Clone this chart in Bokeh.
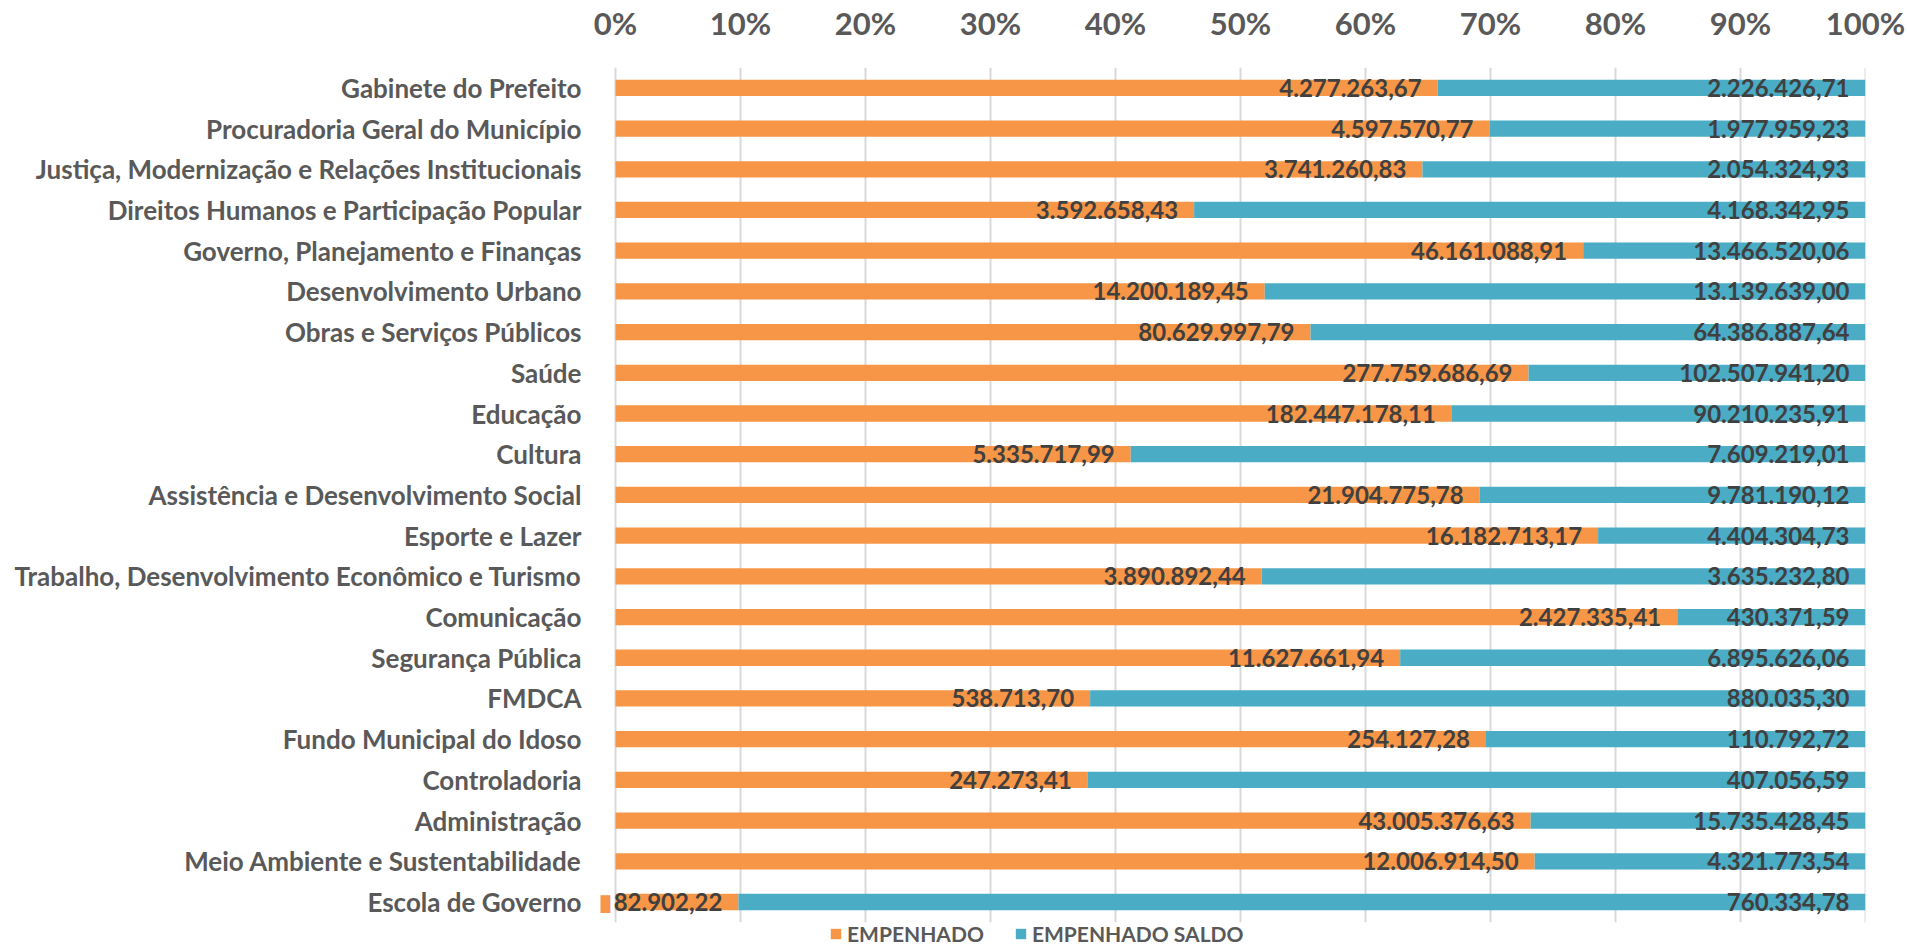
from bokeh.plotting import figure
from bokeh.models import (ColumnDataSource, Range1d, FixedTicker, NumeralTickFormatter,
                          Legend, LegendItem)
from bokeh.core.properties import value
from bokeh.embed import file_html
from bokeh.resources import INLINE

categories = [
    "Gabinete do Prefeito",
    "Procuradoria Geral do Município",
    "Justiça, Modernização e Relações Institucionais",
    "Direitos Humanos e Participação Popular",
    "Governo, Planejamento e Finanças",
    "Desenvolvimento Urbano",
    "Obras e Serviços Públicos",
    "Saúde",
    "Educação",
    "Cultura",
    "Assistência e Desenvolvimento Social",
    "Esporte e Lazer",
    "Trabalho, Desenvolvimento Econômico e Turismo",
    "Comunicação",
    "Segurança Pública",
    "FMDCA",
    "Fundo Municipal do Idoso",
    "Controladoria",
    "Administração",
    "Meio Ambiente e Sustentabilidade",
    "Escola de Governo",
]

empenhado = [
    4277263.67, 4597570.77, 3741260.83, 3592658.43, 46161088.91, 14200189.45,
    80629997.79, 277759686.69, 182447178.11, 5335717.99, 21904775.78,
    16182713.17, 3890892.44, 2427335.41, 11627661.94, 538713.70, 254127.28,
    247273.41, 43005376.63, 12006914.50, 82902.22,
]

empenhado_saldo = [
    2226426.71, 1977959.23, 2054324.93, 4168342.95, 13466520.06, 13139639.00,
    64386887.64, 102507941.20, 90210235.91, 7609219.01, 9781190.12,
    4404304.73, 3635232.80, 430371.59, 6895626.06, 880035.30, 110792.72,
    407056.59, 15735428.45, 4321773.54, 760334.78,
]

series_names = ["EMPENHADO", "EMPENHADO SALDO"]
tick_values = [0, 0.1, 0.2, 0.3, 0.4, 0.5, 0.6, 0.7, 0.8, 0.9, 1.0]

ORANGE = "#F79646"
BLUE = "#4BACC6"
FONT = "Lato"
PAD = 0.012     # small room left of 0% for the legend key of the last label
BOTTOM = 0.593  # room (in rows) under the last bar for the legend


def br(v):
    s = f"{v:,.2f}"
    return s.replace(",", "X").replace(".", ",").replace("X", ".")


n = len(categories)
ypos = list(range(n - 1, -1, -1))  # first category at the top
tot = [a + b for a, b in zip(empenhado, empenhado_saldo)]
p1 = [a / t for a, t in zip(empenhado, tot)]
src = ColumnDataSource(dict(
    y=ypos,
    zero=[0.0] * n,
    p1=p1,
    one=[1.0] * n,
    lab1=[br(v) for v in empenhado],
    lab2=[br(v) for v in empenhado_saldo],
))

p = figure(width=1907, height=946, output_backend="svg", toolbar_location=None,
           y_range=Range1d(-0.5 - BOTTOM, n - 0.5), x_range=Range1d(-PAD, 1),
           x_axis_location="above",
           min_border_left=600, min_border_right=42, min_border_top=65,
           min_border_bottom=0)
p.outline_line_color = None
p.xgrid.grid_line_color = None
p.ygrid.grid_line_color = None

# vertical gridlines limited to the category band
grid = ColumnDataSource(dict(x=tick_values,
                             y0=[-0.5] * len(tick_values),
                             y1=[n - 0.5] * len(tick_values)))
p.segment(x0="x", x1="x", y0="y0", y1="y1", source=grid,
          line_color="#D9D9D9", line_width=2)

r1 = p.hbar(y="y", left="zero", right="p1", height=0.4, source=src,
            fill_color=ORANGE, line_color=None)
r2 = p.hbar(y="y", left="p1", right="one", height=0.4, source=src,
            fill_color=BLUE, line_color=None)

p.text(x="p1", y="y", text="lab1", source=src, text_align="right",
       text_baseline="middle", x_offset=-16, text_font=value(FONT),
       text_font_style="bold", text_font_size="24px", text_color="#404040")
p.text(x="one", y="y", text="lab2", source=src, text_align="right",
       text_baseline="middle", x_offset=-16, text_font=value(FONT),
       text_font_style="bold", text_font_size="24px", text_color="#404040")

# legend key shown with the last category's data label
last = ColumnDataSource(dict(y=[ypos[-1]], zero=[0.0], key=["■"]))
p.text(x="zero", y="y", text="key", source=last, text_align="right",
       text_baseline="middle", x_offset=-3, text_font=value("DejaVu Sans"),
       text_font_size="23px", text_color=ORANGE)

p.xaxis.ticker = FixedTicker(ticks=tick_values)
p.xaxis.formatter = NumeralTickFormatter(format="0%")
p.yaxis.ticker = FixedTicker(ticks=ypos)
p.yaxis.major_label_overrides = {yv: c for yv, c in zip(ypos, categories)}
for ax in (p.xaxis, p.yaxis):
    ax.axis_line_color = None
    ax.major_tick_line_color = None
    ax.minor_tick_line_color = None
    ax.major_label_text_font = FONT
    ax.major_label_text_font_style = "bold"
    ax.major_label_text_color = "#595959"
p.xaxis.major_label_text_font_size = "31px"
p.xaxis.major_label_standoff = 20
p.yaxis.major_label_text_font_size = "26px"
p.yaxis.major_label_standoff = 13

legend = Legend(items=[LegendItem(label=series_names[0], renderers=[r1]),
                       LegendItem(label=series_names[1], renderers=[r2])],
                orientation="horizontal", location=(229, 0),
                glyph_width=13, glyph_height=13, label_height=13,
                label_standoff=5, spacing=30,
                padding=0, margin=0, border_line_color=None,
                background_fill_alpha=0,
                label_text_font=FONT, label_text_font_style="bold",
                label_text_font_size="21px", label_text_color="#595959")
p.add_layout(legend, "center")

open("out.html", "w").write(file_html(p, INLINE))
